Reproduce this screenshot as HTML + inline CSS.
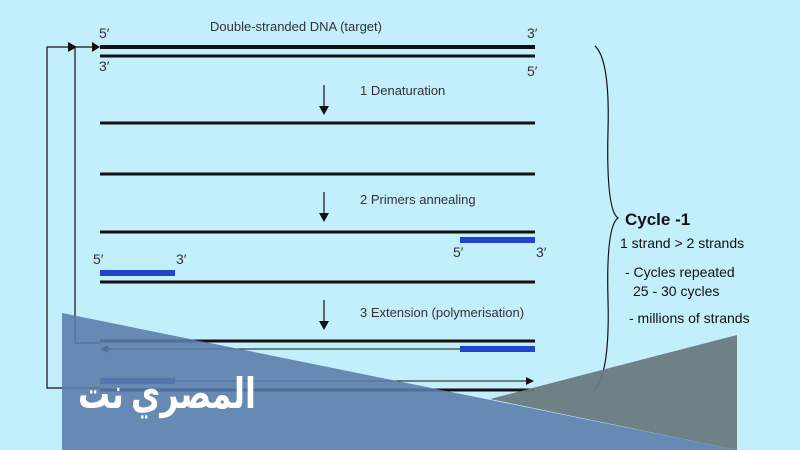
<!DOCTYPE html>
<html><head><meta charset="utf-8"><style>
body{margin:0;width:800px;height:450px;overflow:hidden;background:#c3eefb;font-family:"Liberation Sans",sans-serif}
svg{position:absolute;left:0;top:0}
</style></head><body>
<svg width="800" height="450" viewBox="0 0 800 450">
<g font-family="Liberation Sans, sans-serif" fill="#333" font-size="13">
<text x="210" y="31">Double-stranded DNA (target)</text>
<text x="99" y="38" font-size="14">5′</text><text x="527" y="38" font-size="14">3′</text>
<text x="99" y="71" font-size="14">3′</text><text x="527" y="76" font-size="14">5′</text>
<text x="360" y="95">1 Denaturation</text>
<text x="360" y="204">2 Primers annealing</text>
<text x="453" y="257" font-size="14">5′</text><text x="536" y="257" font-size="14">3′</text>
<text x="93" y="264" font-size="14">5′</text><text x="176" y="264" font-size="14">3′</text>
<text x="360" y="317">3 Extension (polymerisation)</text>
</g>
<g stroke="#111">
<line x1="100" y1="47" x2="535" y2="47" stroke-width="4"/>
<line x1="100" y1="56" x2="535" y2="56" stroke-width="3"/>
<line x1="100" y1="123" x2="535" y2="123" stroke-width="3"/>
<line x1="100" y1="174" x2="535" y2="174" stroke-width="3"/>
<line x1="100" y1="232" x2="535" y2="232" stroke-width="3"/>
<line x1="100" y1="282" x2="535" y2="282" stroke-width="3"/>
<line x1="100" y1="341" x2="535" y2="341" stroke-width="3"/>
<line x1="100" y1="390" x2="535" y2="390" stroke-width="3"/>
<line x1="104" y1="349" x2="535" y2="349" stroke-width="1"/>
<line x1="100" y1="381" x2="528" y2="381" stroke-width="1"/>
<g stroke-width="1.2" fill="none">
<polyline points="100,388 47,388 47,47 68,47"/>
<polyline points="100,343 75,343 75,47 95,47"/>
<line x1="324" y1="85" x2="324" y2="108"/>
<line x1="324" y1="192" x2="324" y2="215"/>
<line x1="324" y1="300" x2="324" y2="323"/>
<path d="M595,46 Q610,60 608,130 Q606,210 618,218 Q606,226 608,300 Q610,375 594,390"/>
</g>
</g>
<g fill="#111">
<polygon points="68,42 68,52 77,47"/><polygon points="92,42 92,52 100,47"/>
<polygon points="319,106 329,106 324,115"/><polygon points="319,213 329,213 324,222"/><polygon points="319,321 329,321 324,330"/>
<polygon points="108,345 108,353 100,349"/><polygon points="526,377 526,385 534,381"/>
</g>
<g fill="#2244cc">
<rect x="460" y="346" width="75" height="6"/><rect x="100" y="378" width="75" height="6"/>
<rect x="460" y="237" width="75" height="6"/><rect x="100" y="270" width="75" height="6"/>
</g>
<g font-family="Liberation Sans, sans-serif" fill="#111" font-size="14">
<text x="625" y="225" font-size="17" font-weight="bold">Cycle -1</text>
<text x="620" y="248">1 strand &gt; 2 strands</text>
<text x="625" y="277">- Cycles repeated</text>
<text x="633" y="296">25 - 30 cycles</text>
<text x="629" y="323">- millions of strands</text>
</g>
<polygon points="62,313 62,450 737,450" fill="#5a7cab" fill-opacity="0.88"/>
<polygon points="490,399 737,335 737,450" fill="#687a80" fill-opacity="0.95"/>
<text x="78" y="408" textLength="178" lengthAdjust="spacingAndGlyphs" fill="#fff" font-size="42" font-weight="bold" font-family="Noto Sans CJK SC, DejaVu Sans, sans-serif">المصري نت</text>
</svg>
</body></html>
